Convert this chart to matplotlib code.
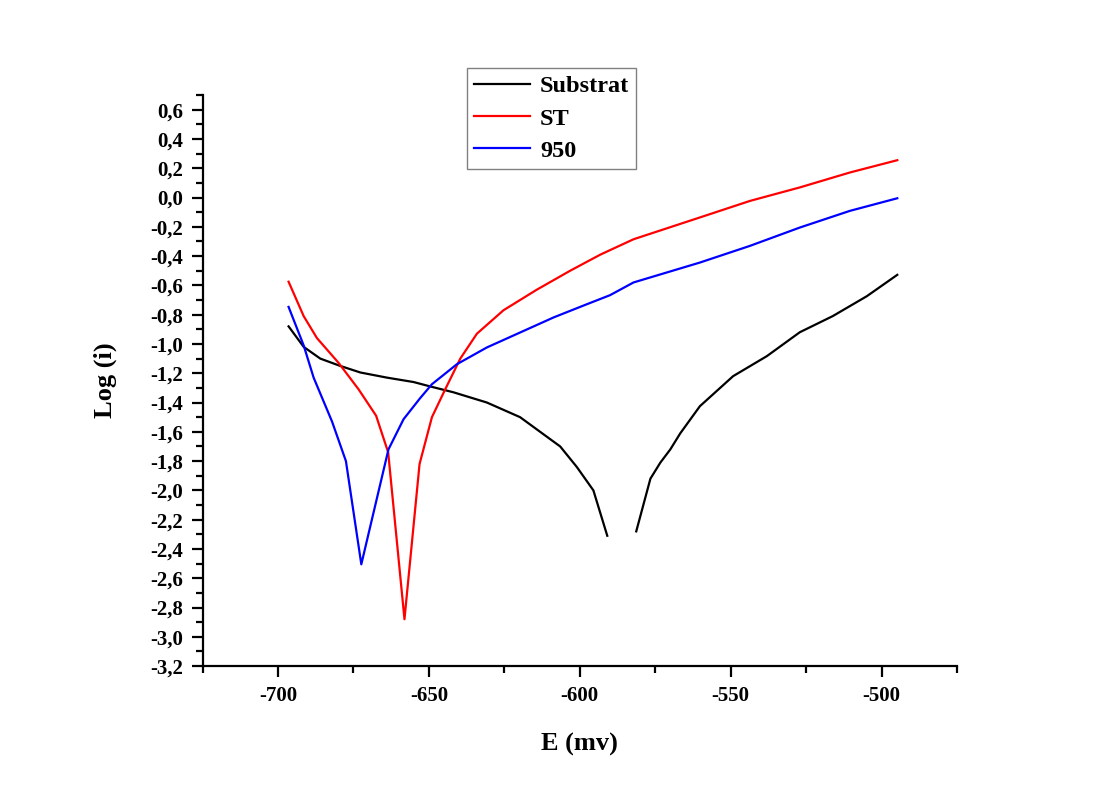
import numpy as np
import matplotlib
matplotlib.use("Agg")
import matplotlib.pyplot as plt
from matplotlib.ticker import MultipleLocator, FuncFormatter

# ---- data ----
sub_E = [-696.5, -691.5, -686.0, -679.4, -672.7, -663.9, -655.1, -649.6, -641.9,
         -630.8, -619.8, -606.5, -601.0, -595.5, -590.9, np.nan,
         -581.3, -576.6, -573.3, -570.0, -566.7, -560.2, -549.2, -538.0,
         -527.1, -516.2, -504.9, -494.8]
sub_logi = [-0.88, -1.02, -1.10, -1.15, -1.195, -1.23, -1.26, -1.29, -1.33,
            -1.40, -1.50, -1.70, -1.84, -2.00, -2.31, np.nan,
            -2.28, -1.92, -1.81, -1.72, -1.61, -1.425, -1.22, -1.083,
            -0.92, -0.81, -0.674, -0.528]

st_E = [-696.5, -691.5, -687.1, -679.9, -673.3, -667.5, -663.5, -658.1, -653.1,
        -649.0, -644.6, -639.6, -634.1, -625.3, -614.3, -603.2, -593.2, -582.2,
        -560.2, -543.6, -527.1, -510.5, -494.8]
st_logi = [-0.575, -0.81, -0.96, -1.13, -1.31, -1.49, -1.74, -2.88, -1.82,
           -1.50, -1.31, -1.10, -0.93, -0.77, -0.63, -0.50, -0.39, -0.285,
           -0.136, -0.023, 0.069, 0.171, 0.255]

t950_E = [-696.5, -691.5, -688.2, -682.1, -677.5, -672.4, -663.4, -658.4, -652.9,
          -649.0, -640.7, -630.8, -619.8, -608.7, -597.7, -590.0, -582.2,
          -560.2, -543.6, -527.1, -510.5, -494.8]
t950_logi = [-0.747, -1.01, -1.23, -1.53, -1.80, -2.505, -1.72, -1.514, -1.37,
             -1.275, -1.138, -1.024, -0.922, -0.819, -0.729, -0.667, -0.58,
             -0.444, -0.33, -0.205, -0.091, -0.005]

series_labels = ["Substrat", "ST", "950"]
x_label = "E (mv)"
y_label = "Log (i)"

# ---- figure ----
plt.rcParams['font.family'] = ['Liberation Serif', 'DejaVu Serif']
plt.rcParams['font.weight'] = 'bold'

fig = plt.figure(figsize=(10.95, 7.92), dpi=100, facecolor='white')
ax = fig.add_axes([0.185, 0.159, 0.689, 0.721])

ax.plot(sub_E, sub_logi, color='black', lw=1.6, label=series_labels[0])
ax.plot(st_E, st_logi, color='#ff0000', lw=1.6, label=series_labels[1])
ax.plot(t950_E, t950_logi, color='#0000ff', lw=1.6, label=series_labels[2])

ax.set_xlim(-725, -475)
ax.set_ylim(-3.2, 0.7)

ax.xaxis.set_major_locator(MultipleLocator(50))
ax.xaxis.set_minor_locator(MultipleLocator(25))
ax.yaxis.set_major_locator(MultipleLocator(0.2))
ax.yaxis.set_minor_locator(MultipleLocator(0.1))

def yfmt(v, pos):
    if abs(v) < 1e-9:
        v = 0.0
    return f"{v:.1f}".replace('.', ',')

def xfmt(v, pos):
    return f"{int(round(v))}"

ax.yaxis.set_major_formatter(FuncFormatter(yfmt))
ax.xaxis.set_major_formatter(FuncFormatter(xfmt))

for s in ['top', 'right']:
    ax.spines[s].set_visible(False)
for s in ['left', 'bottom']:
    ax.spines[s].set_linewidth(1.6)

ax.tick_params(which='major', direction='out', length=8, width=1.6,
               labelsize=15, pad=6)
ax.tick_params(which='minor', direction='out', length=5, width=1.6)
for lab in ax.get_xticklabels() + ax.get_yticklabels():
    lab.set_fontweight('bold')

ax.set_xlabel(x_label, fontsize=19, fontweight='bold', labelpad=20)
ax.set_ylabel(y_label, fontsize=19, fontweight='bold', labelpad=24)

leg = ax.legend(loc='upper left', bbox_to_anchor=(0.4265, 0.914),
                bbox_transform=fig.transFigure, borderaxespad=0,
                fancybox=False, framealpha=1, edgecolor='#808080',
                prop={'size': 17.5, 'weight': 'bold'}, handlelength=2.3,
                handletextpad=0.4, labelspacing=0.42, borderpad=0.3)
leg.get_frame().set_linewidth(1.0)

fig.savefig("out.png", dpi=100, facecolor='white')
